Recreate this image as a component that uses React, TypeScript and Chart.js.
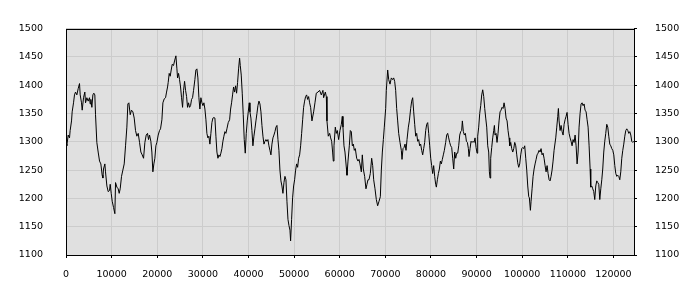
import React, { useEffect, useRef } from "react";
import { Chart, registerables } from "chart.js";

Chart.register(...registerables);

const xValues: number[] = [
  0, 180, 480, 770, 910, 1210, 1350, 1650, 1860, 2080, 2380, 2670, 2960, 3110, 3400, 3550, 3840, 4130, 4280, 4570,
  4860, 5150, 5300, 5450, 5670, 5890, 6100, 6320, 6470, 6760, 7050, 7350, 7640, 7930, 8080, 8220, 8520, 8660, 8960, 9250,
  9540, 9690, 9910, 10130, 10420, 10710, 10860, 11150, 11440, 11660, 11880, 12170, 12460, 12760, 13050, 13340, 13560, 13780, 14070, 14360,
  14660, 14950, 15240, 15530, 15830, 16120, 16410, 16700, 17000, 17290, 17580, 17870,
  18090, 18310, 18600, 18820, 19040, 19260, 19480, 19700, 19920, 20210, 20500, 20720, 21020, 21240, 21530, 21820, 22040, 22260, 22400, 22620,
  22840, 23060, 23280, 23570, 23790, 24090, 24310, 24450, 24670, 24890, 25110, 25330, 25550, 25770, 25990, 26210, 26430, 26640, 26860, 27080,
  27300, 27520, 27740, 27960, 28250, 28470, 28690, 28910, 29130, 29350, 29570, 29790, 30010, 30230, 30450, 30670, 30880, 31100, 31320, 31540,
  31760, 31980, 32200, 32420, 32640, 32860, 33080, 33300, 33520, 33740, 33950, 34170, 34390, 34610, 34830, 35050, 35270, 35560, 35860,
  36080, 36290, 36510, 36730, 36950, 37170, 37390, 37610, 37830, 38050, 38200, 38410, 38630, 38850, 39070, 39290, 39510, 39730, 39950, 40170,
  40320, 40530, 40750, 40970, 41190, 41410, 41630, 41850, 42070, 42290, 42510, 42730, 42950, 43170, 43390, 43600, 43820, 44040, 44260, 44480,
  44700, 44920, 45140, 45360, 45580, 45800, 46020, 46240, 46460, 46670, 46890, 47110, 47330, 47550, 47770, 47990, 48210, 48430, 48650, 48870,
  49090, 49230, 49450, 49670, 49890, 50110, 50330, 50550, 50770, 50990, 51210, 51430, 51650, 51870, 52080, 52300, 52520, 52740, 52960, 53180,
  53400, 53620,
  53910, 54280, 54570, 54860, 55230, 55590, 55960, 56320, 56470, 56840, 57060, 57200, 57490, 57790, 58010, 58230, 58440, 58590, 58740, 59030,
  59250, 59470, 59760, 60050, 60350, 60560, 60710, 60930, 61150, 61440, 61590, 61810, 62100, 62320, 62540, 62760, 62980, 63200, 63420, 63710,
  64000, 64220, 64440, 64730, 64950, 65170, 65460, 65750, 65970, 66190, 66410, 66700, 67000, 67220, 67440, 67730, 68020, 68310, 68610, 68900,
  69120, 69340, 69560, 69770, 70070, 70210, 70510, 70730, 71020, 71310, 71600, 71820,
  72040, 72260, 72480, 72700, 72920, 73210, 73500, 73650, 73870, 74090, 74310, 74530, 74750, 75040, 75260, 75550, 75770, 75990, 76210, 76430,
  76650, 76870, 77080, 77300, 77520, 77740, 77960, 78180, 78400, 78620, 78840, 79060, 79280, 79500, 79720, 79940, 80150, 80370, 80590, 80810,
  81030, 81180, 81400, 81620, 81840, 82060, 82270, 82490, 82710, 82930, 83220, 83440, 83660, 83880, 84100, 84320, 84540, 84760, 84980, 85200,
  85420, 85640, 85860, 86080, 86300, 86510, 86730, 86880, 87100, 87320, 87540, 87760, 87980, 88200, 88340, 88560, 88780, 89000, 89220, 89440,
  89660,
  89880, 90100, 90240, 90460, 90680, 90900, 91120, 91340, 91560, 91780, 92000, 92220, 92440, 92650, 92800, 92950, 93090, 93310, 93530, 93750,
  93900, 94040, 94260, 94480, 94700, 94920, 95140, 95360, 95580, 95800, 96020, 96240, 96460, 96680, 96890, 97110, 97260, 97480, 97700, 97920,
  98140, 98360, 98580, 98800, 99010, 99230, 99450, 99670, 99890, 100110, 100330, 100550, 100770, 100990, 101210, 101430, 101570, 101790, 101940, 102160,
  102380, 102600, 102820, 103040, 103250, 103470, 103690, 103910, 104130, 104350, 104570, 104790, 105010, 105230, 105450, 105670, 105890, 106110, 106320, 106540,
  106760, 106980,
  107350, 107570, 107790, 107930, 108080, 108300, 108520, 108740, 108960, 109180, 109390, 109610, 109830, 110050, 110270, 110490, 110710, 110930, 111150, 111370,
  111590, 111810, 112030, 112250, 112460, 112680, 112900, 113120, 113340, 113560, 113780, 114000, 114220, 114440, 114660, 114880, 115020, 115240, 115460, 115680,
  115900, 116120, 116340, 116560, 116780, 117000, 117220, 117440, 117650, 117870, 118090, 118310, 118530, 118750, 118970, 119190, 119410, 119630, 119850, 120070,
  120290, 120510, 120730, 120940, 121160, 121380, 121600, 121820, 122040, 122260, 122480, 122700, 122920, 123140, 123360, 123580, 123800, 124010, 124230, 124450,
];

const yValues: number[] = [
  1296, 1293, 1312, 1307, 1320, 1337, 1353, 1369, 1383, 1388, 1383, 1394, 1403, 1383, 1369, 1356, 1378, 1388, 1369, 1378,
  1372, 1378, 1367, 1375, 1361, 1383, 1386, 1383, 1348, 1299, 1282, 1266, 1261, 1241, 1236, 1252, 1261, 1247, 1222, 1212,
  1214, 1225, 1209, 1195, 1184, 1173, 1228, 1220, 1217, 1209, 1217, 1239, 1250, 1261, 1293, 1326, 1367, 1369, 1348, 1356,
  1353, 1342, 1320, 1310, 1315, 1299, 1282, 1277, 1271, 1299, 1312, 1315,
  1304, 1312, 1301, 1282, 1247, 1261, 1271, 1293, 1299, 1312, 1320, 1323, 1339, 1369, 1376, 1378, 1388, 1397, 1405, 1421,
  1416, 1427, 1437, 1435, 1443, 1452, 1429, 1413, 1421, 1410, 1397, 1378, 1361, 1391, 1407, 1391, 1380, 1361, 1369, 1361,
  1364, 1375, 1378, 1391, 1410, 1427, 1429, 1413, 1378, 1358, 1378, 1369, 1364, 1369, 1358, 1339, 1315, 1307, 1310, 1296,
  1315, 1334, 1342, 1343, 1342, 1310, 1282, 1271, 1277, 1274, 1280, 1288, 1301, 1310, 1318, 1315, 1323, 1334, 1339,
  1358, 1369, 1383, 1397, 1388, 1399, 1386, 1405, 1429, 1448, 1435, 1418, 1386, 1348, 1304, 1280, 1315, 1337, 1353, 1369,
  1353, 1342, 1320, 1293, 1310, 1323, 1337, 1350, 1364, 1372, 1367, 1353, 1329, 1310, 1296, 1301, 1304, 1301, 1304, 1293,
  1285, 1277, 1296, 1307, 1312, 1318, 1326, 1329, 1304, 1285, 1250, 1231, 1222, 1209, 1228, 1239, 1233, 1195, 1163, 1152,
  1144, 1125, 1163, 1201, 1222, 1233, 1250, 1261, 1255, 1271, 1277, 1293, 1315, 1339, 1361, 1372, 1380, 1383, 1375, 1380,
  1369, 1361,
  1337, 1353, 1369, 1386, 1388, 1391, 1383, 1391, 1378, 1388, 1380, 1337, 1310, 1315, 1307, 1301, 1282, 1266, 1293, 1326,
  1315, 1320, 1304, 1320, 1331, 1345, 1326, 1293, 1282, 1255, 1241, 1266, 1293, 1320, 1318, 1293, 1296, 1285, 1288, 1271,
  1266, 1269, 1261, 1247, 1277, 1252, 1239, 1217, 1225, 1233, 1233, 1244, 1271, 1258, 1233, 1217, 1198, 1187, 1195, 1203,
  1250, 1282, 1304, 1326, 1359, 1391, 1427, 1410, 1402, 1413, 1410, 1413,
  1407, 1391, 1359, 1337, 1315, 1299, 1285, 1269, 1288, 1290, 1296, 1285, 1304, 1326, 1337, 1359, 1372, 1378, 1353, 1331,
  1310, 1315, 1301, 1304, 1293, 1296, 1285, 1277, 1288, 1299, 1320, 1331, 1334, 1315, 1293, 1271, 1258, 1244, 1258, 1239,
  1225, 1220, 1233, 1244, 1252, 1266, 1261, 1269, 1277, 1285, 1299, 1312, 1315, 1307, 1299, 1293, 1290, 1271, 1252, 1282,
  1271, 1280, 1280, 1293, 1312, 1318, 1320, 1337, 1318, 1312, 1315, 1301, 1299, 1288, 1274, 1288, 1301, 1299, 1301, 1299,
  1307,
  1290, 1280, 1310, 1326, 1350, 1364, 1383, 1392, 1380, 1359, 1342, 1326, 1293, 1282, 1247, 1236, 1271, 1290, 1307, 1320,
  1329, 1312, 1315, 1299, 1315, 1337, 1353, 1356, 1361, 1359, 1369, 1359, 1342, 1337, 1320, 1307, 1293, 1299, 1288, 1282,
  1288, 1299, 1293, 1277, 1263, 1255, 1261, 1277, 1288, 1290, 1288, 1293, 1271, 1250, 1222, 1203, 1201, 1179, 1195, 1217,
  1239, 1252, 1261, 1269, 1277, 1280, 1285, 1282, 1288, 1277, 1280, 1271, 1258, 1247, 1258, 1244, 1233, 1231, 1239, 1250,
  1266, 1285,
  1307, 1326, 1345, 1359, 1337, 1320, 1329, 1318, 1312, 1331, 1339, 1345, 1352, 1331, 1315, 1307, 1301, 1293, 1304, 1299,
  1312, 1293, 1261, 1282, 1326, 1350, 1367, 1369, 1364, 1367, 1356, 1353, 1339, 1326, 1293, 1252, 1220, 1222, 1217, 1212,
  1198, 1222, 1231, 1228, 1225, 1198, 1217, 1233, 1252, 1282, 1301, 1315, 1331, 1326, 1310, 1296, 1293, 1288, 1285, 1277,
  1258, 1244, 1239, 1241, 1239, 1233, 1247, 1271, 1285, 1296, 1310, 1320, 1323, 1320, 1315, 1318, 1312, 1301, 1299, 1301,
];

const xTicks: number[] = [0, 10000, 20000, 30000, 40000, 50000, 60000, 70000, 80000, 90000, 100000, 110000, 120000];
const yTicks: number[] = [1100, 1150, 1200, 1250, 1300, 1350, 1400, 1450, 1500];
const xMax = 124500;

const FONT = { family: "'DejaVu Sans', sans-serif", size: 9.5 };

const framePlugin = {
  id: "frame",
  beforeDraw(chart: any) {
    const { ctx, chartArea: a } = chart;
    ctx.save();
    ctx.fillStyle = "#e0e0e0";
    ctx.fillRect(a.left, a.top, a.right - a.left, a.bottom - a.top);
    ctx.restore();
  },
  afterDatasetsDraw(chart: any) {
    const { ctx, chartArea: a } = chart;
    ctx.save();
    ctx.strokeStyle = "#000";
    ctx.lineWidth = 1;
    const l = Math.round(a.left) + 0.5;
    const r = Math.round(a.right) + 0.5;
    const t = Math.round(a.top) + 0.5;
    const b = Math.round(a.bottom) + 0.5;
    ctx.strokeRect(l, t, r - l, b - t);
    ctx.restore();
  },
};

export default function App() {
  const ref = useRef<HTMLCanvasElement | null>(null);
  useEffect(() => {
    document.body.style.margin = "0";
    if (!ref.current) return;
    const data = xValues.map((x, i) => ({ x, y: yValues[i] }));
    const chart = new Chart(ref.current, {
      type: "line",
      data: {
        datasets: [
          {
            data,
            borderColor: "#000",
            borderWidth: 1,
            pointRadius: 0,
            tension: 0,
            fill: false,
            yAxisID: "y",
          },
        ],
      },
      options: {
        animation: false,
        responsive: false,
        layout: { padding: { top: 10, left: 0, right: 0, bottom: 0 } },
        plugins: { legend: { display: false }, tooltip: { enabled: false } },
        scales: {
          x: {
            type: "linear",
            min: 0,
            max: xMax,
            afterBuildTicks: (s: any) => {
              s.ticks = xTicks.map((v) => ({ value: v }));
            },
            afterFit: (s: any) => {
              s.height = 45;
            },
            border: { display: false },
            grid: { color: "#cccccc", tickColor: "#000", tickLength: 3, drawTicks: true },
            ticks: { font: FONT, color: "#000", padding: 11, maxRotation: 0, autoSkip: false, callback: (v: any) => String(v) },
          },
          y: {
            type: "linear",
            position: "left",
            min: 1100,
            max: 1500,
            afterBuildTicks: (s: any) => {
              s.ticks = yTicks.map((v) => ({ value: v }));
            },
            afterFit: (s: any) => {
              s.width = 66;
            },
            border: { display: false },
            grid: { color: "#cccccc", drawTicks: false },
            ticks: { font: FONT, color: "#000", padding: 23, callback: (v: any) => String(v) },
          },
          y2: {
            type: "linear",
            position: "right",
            min: 1100,
            max: 1500,
            afterBuildTicks: (s: any) => {
              s.ticks = yTicks.map((v) => ({ value: v }));
            },
            afterFit: (s: any) => {
              s.width = 66;
            },
            border: { display: false },
            grid: { drawOnChartArea: false, tickColor: "#000", tickLength: 3, drawTicks: true },
            ticks: { font: FONT, color: "#000", padding: 18, callback: (v: any) => String(v) },
          },
        },
      },
      plugins: [framePlugin],
    } as any);
    return () => chart.destroy();
  }, []);
  return (
    <div style={{ width: 700, height: 300 }}>
      <canvas ref={ref} width={700} height={300} style={{ display: "block" }} />
    </div>
  );
}
